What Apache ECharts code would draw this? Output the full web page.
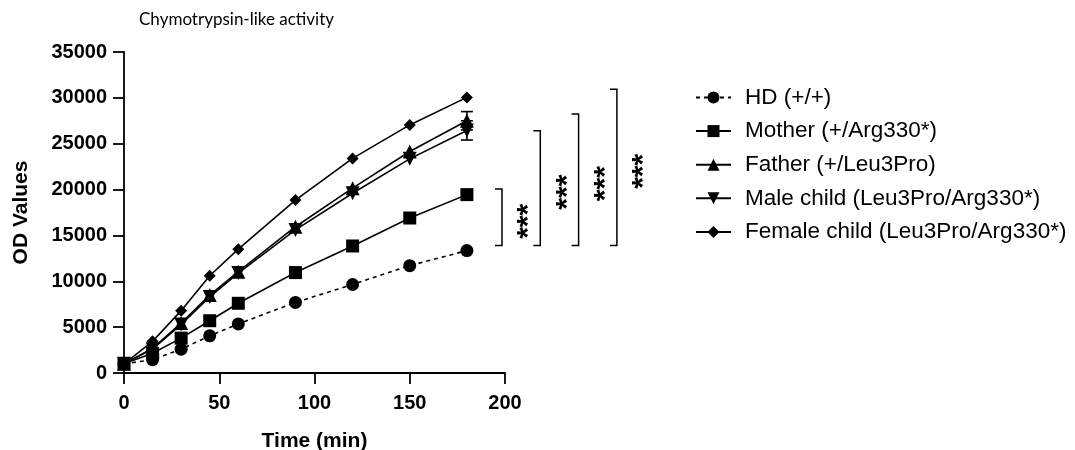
<!DOCTYPE html>
<html>
<head>
<meta charset="utf-8">
<script src="https://cdn.jsdelivr.net/npm/echarts@6/dist/echarts.min.js"></script>
<style>
html,body{margin:0;padding:0;background:#fff;}
#chart{width:1075px;height:450px;}
</style>
</head>
<body>
<div id="chart"></div>
<script>
// ---- data ----
const times = [0, 15, 30, 45, 60, 90, 120, 150, 180];
const seriesNames = ['HD (+/+)', 'Mother (+/Arg330*)', 'Father (+/Leu3Pro)', 'Male child (Leu3Pro/Arg330*)', 'Female child (Leu3Pro/Arg330*)'];
const hd     = [1000, 1450, 2600, 4050, 5350, 7700, 9650, 11700, 13350];
const mother = [1000, 2150, 3800, 5700, 7600, 10950, 13850, 16900, 19450];
const father = [1000, 2700, 5450, 8500, 11050, 15950, 20150, 24150, 27500];
const male   = [1000, 2600, 5300, 8300, 10900, 15600, 19600, 23350, 26450];
const female = [1000, 3450, 6800, 10600, 13500, 18850, 23400, 27050, 30050];
// error bars [time, low, high]
const errorBars = [[180, 26500, 28500], [180, 25400, 27500]];
// significance brackets: [top value, bottom value]
const brackets = [[20050, 13900], [26400, 13900], [28250, 13900], [30950, 13900]];
const sigLabel = '***';
const yTicks = [0, 5000, 10000, 15000, 20000, 25000, 30000, 35000];
const xTicks = [0, 50, 100, 150, 200];

const zip = (arr) => times.map((t, i) => [t, arr[i]]);
const FONT = '"Liberation Sans", Arial, sans-serif';

const base = {
  type: 'line',
  showSymbol: true,
  color: '#000',
  itemStyle: { color: '#000' },
  lineStyle: { color: '#000', width: 1.6 },
  emphasis: { disabled: true },
  animation: false
};

const chart = echarts.init(document.getElementById('chart'));
const option = {
  animation: false,
  backgroundColor: '#fff',
  title: {
    text: 'Chymotrypsin-like activity',
    left: 134, top: 6,
    textStyle: { fontFamily: 'Lato, "Noto Sans", sans-serif', fontWeight: 'normal', fontSize: 17, color: '#000' }
  },
  grid: { left: 124, right: 570, top: 52, bottom: 77, containLabel: false, outerBoundsMode: 'none' },
  xAxis: {
    type: 'value', min: 0, max: 200, interval: 50,
    name: 'Time (min)', nameLocation: 'middle', nameGap: 58,
    nameTextStyle: { fontFamily: FONT, fontWeight: 'bold', fontSize: 21, color: '#000' },
    axisLine: { lineStyle: { color: '#000', width: 1.8 } },
    axisTick: { length: 11, lineStyle: { color: '#000', width: 1.8 } },
    axisLabel: { fontFamily: FONT, fontWeight: 'bold', fontSize: 20, color: '#000', margin: 20,
      formatter: v => xTicks.includes(v) ? String(v) : '' },
    splitLine: { show: false }
  },
  yAxis: {
    type: 'value', min: 0, max: 35000, interval: 5000,
    name: 'OD Values', nameLocation: 'middle', nameGap: 92, nameRotate: 90,
    nameTextStyle: { fontFamily: FONT, fontWeight: 'bold', fontSize: 21, color: '#000' },
    axisLine: { show: true, lineStyle: { color: '#000', width: 1.8 } },
    axisTick: { show: true, length: 11, lineStyle: { color: '#000', width: 1.8 } },
    axisLabel: { fontFamily: FONT, fontWeight: 'bold', fontSize: 20, color: '#000', margin: 17,
      formatter: v => yTicks.includes(v) ? String(v) : '' },
    splitLine: { show: false }
  },
  legend: {
    orient: 'vertical', left: 690, top: 81,
    itemWidth: 35, itemHeight: 15, itemGap: 10.6,
    data: seriesNames,
    textStyle: { fontFamily: FONT, fontSize: 22.5, color: '#000', lineHeight: 22, padding: [0, 0, 0, 9] },
    selectedMode: false
  },
  series: [
    Object.assign({}, base, { name: seriesNames[0], data: zip(hd), symbol: 'circle', symbolSize: 13,
      lineStyle: { color: '#000', width: 1.6, type: [4, 4] } }),
    Object.assign({}, base, { name: seriesNames[1], data: zip(mother), symbol: 'rect', symbolSize: 13 }),
    Object.assign({}, base, { name: seriesNames[2], data: zip(father), symbol: 'triangle', symbolSize: 14 }),
    Object.assign({}, base, { name: seriesNames[3], data: zip(male), symbol: 'triangle', symbolRotate: 180, symbolSize: 14 }),
    Object.assign({}, base, { name: seriesNames[4], data: zip(female), symbol: 'diamond', symbolSize: 12 }),
    {
      type: 'custom', name: 'err', silent: true, animation: false, z: 3,
      data: errorBars,
      renderItem: function (params, api) {
        const x = api.value(0);
        const lo = api.coord([x, api.value(1)]);
        const hi = api.coord([x, api.value(2)]);
        const w = 6;
        const st = { stroke: '#000', lineWidth: 1.6 };
        return { type: 'group', children: [
          { type: 'line', shape: { x1: lo[0], y1: lo[1], x2: hi[0], y2: hi[1] }, style: st },
          { type: 'line', shape: { x1: lo[0] - w, y1: lo[1], x2: lo[0] + w, y2: lo[1] }, style: st },
          { type: 'line', shape: { x1: hi[0] - w, y1: hi[1], x2: hi[0] + w, y2: hi[1] }, style: st }
        ]};
      }
    }
  ]
};
chart.setOption(option);

// significance brackets (annotation), positioned with the y scale
const bracketX0 = 502, bracketStep = 38.3, starOffset = 27;
const gfx = [];
brackets.forEach((b, i) => {
  const x = bracketX0 + i * bracketStep;
  const yTop = chart.convertToPixel({ yAxisIndex: 0 }, b[0]);
  const yBot = chart.convertToPixel({ yAxisIndex: 0 }, b[1]);
  gfx.push({ type: 'polyline', shape: { points: [[x - 7, yTop], [x, yTop], [x, yBot], [x - 7, yBot]] },
    style: { stroke: '#000', lineWidth: 1.5, fill: null }, silent: true });
  gfx.push({ type: 'text', x: x + starOffset, y: (yTop + yBot) / 2 + 4, rotation: Math.PI / 2,
    style: { text: sigLabel, font: 'bold 30px ' + FONT, fill: '#000', align: 'center', verticalAlign: 'middle' }, silent: true });
});
chart.setOption({ graphic: gfx });
</script>
</body>
</html>
